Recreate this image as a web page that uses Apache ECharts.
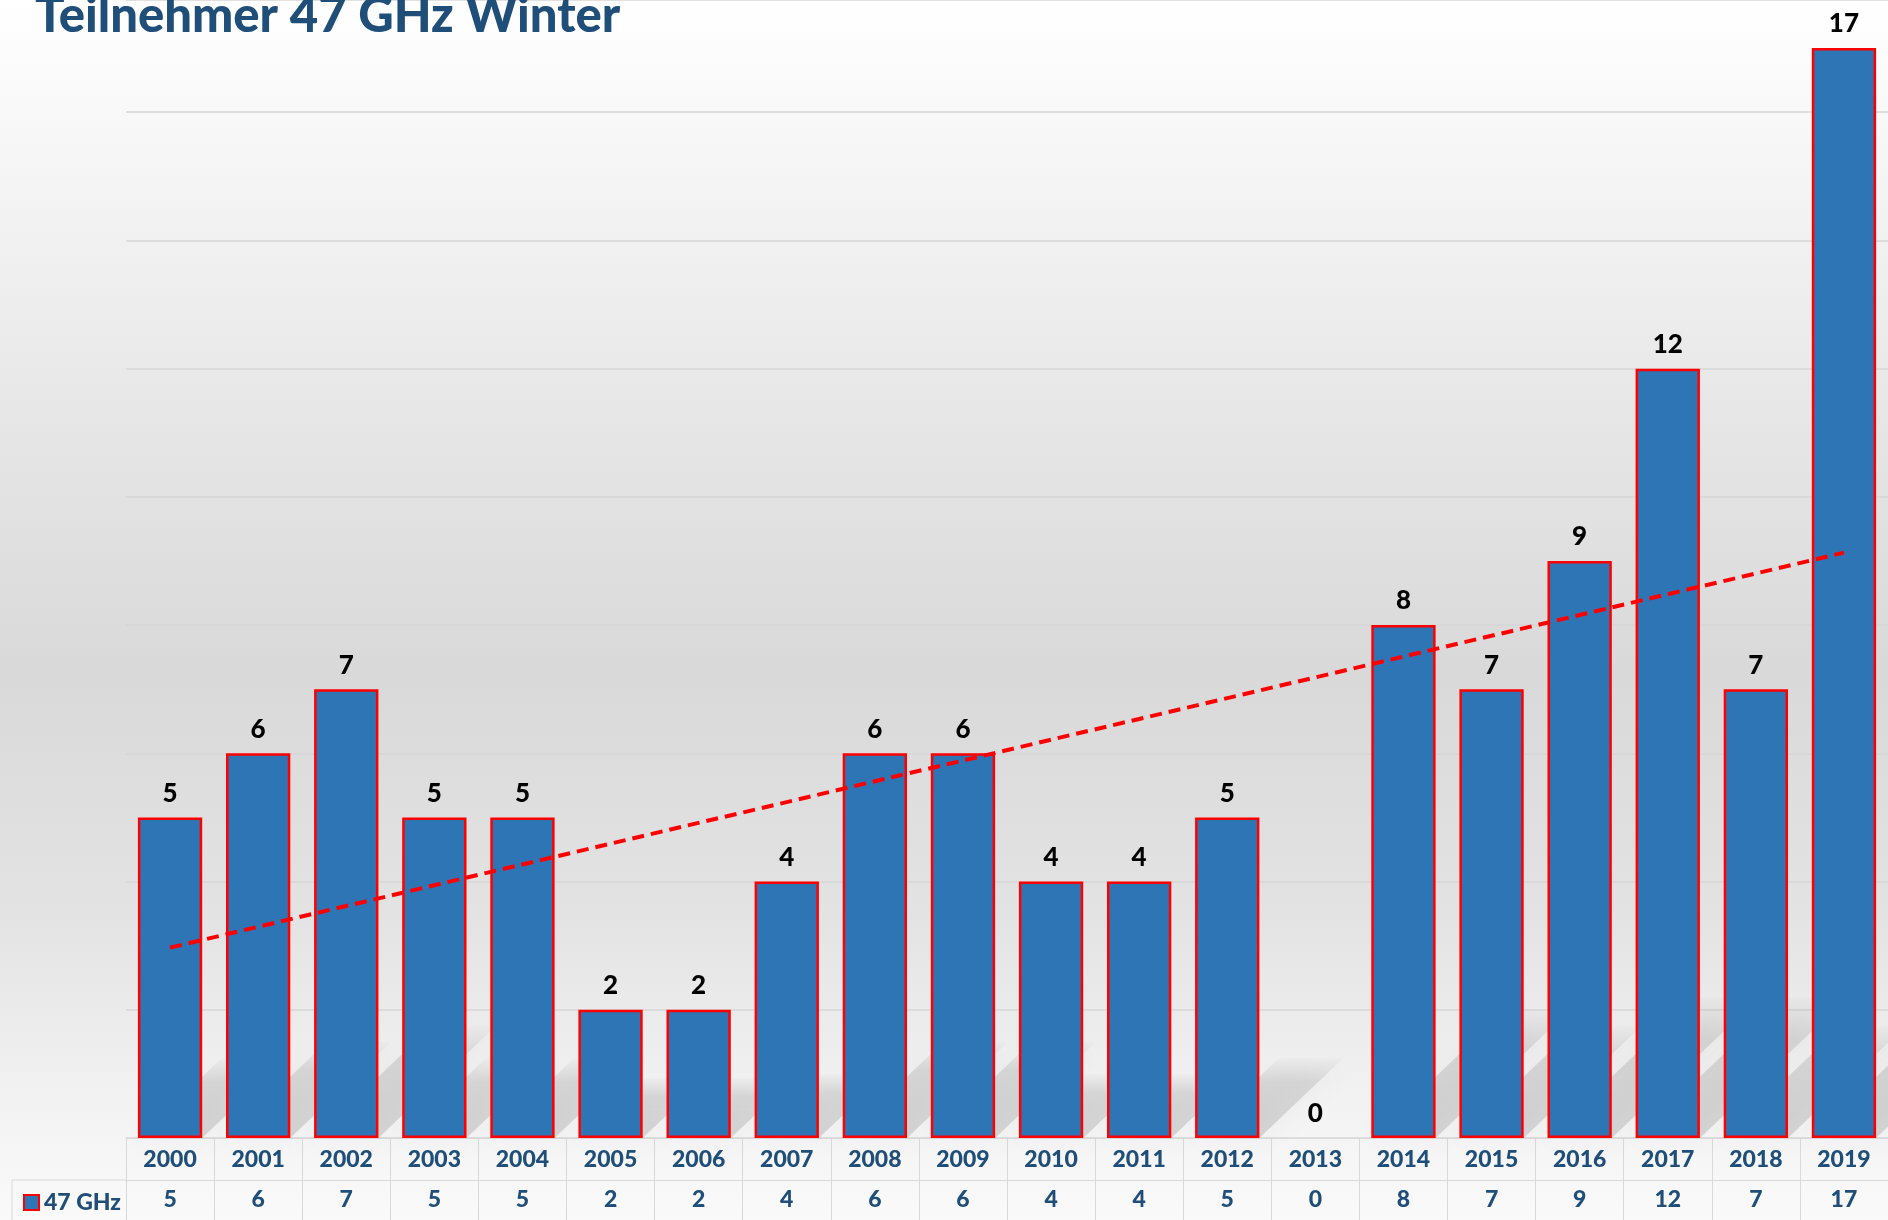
<!DOCTYPE html>
<html>
<head>
<meta charset="utf-8">
<title>Teilnehmer 47 GHz Winter</title>
<script src="https://cdn.jsdelivr.net/npm/echarts@6/dist/echarts.min.js"></script>
<style>
  html, body { margin: 0; padding: 0; }
  #chart { width: 1888px; height: 1220px; }
</style>
</head>
<body>
<div id="chart"></div>
<script>
// Jahre und Teilnehmerzahlen
var years = ["2000", "2001", "2002", "2003", "2004", "2005", "2006", "2007", "2008", "2009",
             "2010", "2011", "2012", "2013", "2014", "2015", "2016", "2017", "2018", "2019"];
var teilnehmer = [5, 6, 7, 5, 5, 2, 2, 4, 6, 6, 4, 4, 5, 0, 8, 7, 9, 12, 7, 17];
// Trendlinie (Start- und Endwert)
var trendIdx = [0, 19];
var trendVal = [2.97, 9.13];

var navy = "#1F4E79";
var font = "Lato, 'Open Sans', sans-serif";

var chart = echarts.init(document.getElementById("chart"));

var option = {
  backgroundColor: {
    type: "linear", x: 0, y: 0, x2: 0, y2: 1,
    colorStops: [
      { offset: 0, color: "#ffffff" },
      { offset: 0.1, color: "#f8f8f8" },
      { offset: 0.35, color: "#e6e6e6" },
      { offset: 0.55, color: "#d9d9d9" },
      { offset: 0.75, color: "#e3e3e3" },
      { offset: 0.9, color: "#f2f2f2" },
      { offset: 1, color: "#fafafa" }
    ]
  },
  title: {
    text: "Teilnehmer 47 GHz Winter",
    left: 30,
    top: -13,
    textStyle: { fontFamily: font, fontWeight: 900, fontSize: 49, color: navy }
  },
  legend: {
    data: ["47 GHz"],
    left: 18,
    top: 1186,
    icon: "rect",
    itemWidth: 15,
    itemHeight: 15,
    itemGap: 4,
    textStyle: { fontFamily: font, fontWeight: 900, fontSize: 23, color: navy }
  },
  grid: { left: 126, right: 0, top: 0, bottom: 82 },
  xAxis: [
    {
      type: "category",
      data: years,
      axisLine: { lineStyle: { color: "#d9d9d9", width: 1 } },
      axisTick: { show: true, length: 42, lineStyle: { color: "#d9d9d9" } },
      axisLabel: { margin: 10, fontFamily: font, fontWeight: 900, fontSize: 23, color: navy }
    },
    {
      // Datentabelle: zweite Zeile mit den Werten
      type: "category",
      position: "bottom",
      offset: 42,
      data: teilnehmer.map(String),
      axisLine: { lineStyle: { color: "#d9d9d9", width: 1 } },
      axisTick: { show: true, length: 42, lineStyle: { color: "#d9d9d9" } },
      axisLabel: { margin: 8, fontFamily: font, fontWeight: 900, fontSize: 23, color: navy }
    }
  ],
  yAxis: {
    type: "value",
    min: 0,
    max: 17.75,
    interval: 2,
    axisLabel: { show: false },
    axisLine: { show: false },
    axisTick: { show: false },
    splitLine: { lineStyle: { color: "#d6d6d6", width: 1.5 } }
  },
  graphic: [
    { type: "line", shape: { x1: 12, y1: 1180, x2: 126, y2: 1180 }, style: { stroke: "#d9d9d9", lineWidth: 1 } },
    { type: "line", shape: { x1: 12, y1: 1180, x2: 12, y2: 1220 }, style: { stroke: "#d9d9d9", lineWidth: 1 } }
  ],
  series: [
    {
      // Schatten hinter den Balken
      type: "custom",
      xAxisIndex: 0,
      silent: true,
      z: 1,
      data: teilnehmer.map(function (v, i) { return [i, v]; }),
      renderItem: function (params, api) {
        var v = api.value(1);
        if (!v) return;
        var base = api.coord([api.value(0), 0]);
        var top = api.coord([api.value(0), v]);
        var w = api.size([1, 0])[0] * 0.73;
        var h = Math.max(60, Math.min((base[1] - top[1]) * 0.25, 140));
        var dx = h * 1.05;
        var x0 = base[0] - w / 2, x1 = base[0] + w / 2, y = base[1];
        return {
          type: "polygon",
          shape: { points: [[x0, y], [x1, y], [x1 + dx, y - h], [x0 + dx, y - h]] },
          style: {
            fill: {
              type: "linear", x: 0, y: 1, x2: 0, y2: 0,
              colorStops: [
                { offset: 0, color: "rgba(0,0,0,0.13)" },
                { offset: 0.7, color: "rgba(0,0,0,0.1)" },
                { offset: 1, color: "rgba(0,0,0,0.01)" }
              ]
            },
            shadowBlur: 30,
            shadowColor: "rgba(0,0,0,0.25)"
          }
        };
      }
    },
    {
      name: "47 GHz",
      type: "bar",
      xAxisIndex: 0,
      z: 2,
      data: teilnehmer.map(function (v) {
        return v === 0 ? { value: v, itemStyle: { borderWidth: 0 } } : v;
      }),
      barWidth: "73%",
      itemStyle: { color: "#2E75B6", borderColor: "#FF0000", borderWidth: 2.5 },
      label: {
        show: true,
        position: "top",
        distance: 11,
        fontFamily: font,
        fontWeight: 900,
        fontSize: 26,
        color: "#000000"
      }
    },
    {
      // lineare Trendlinie
      type: "line",
      xAxisIndex: 0,
      z: 3,
      data: trendIdx.map(function (x, i) { return [x, trendVal[i]]; }),
      symbol: "none",
      silent: true,
      lineStyle: { color: "#FF0000", width: 4, type: [12, 7] }
    }
  ]
};

chart.setOption(option);
</script>
</body>
</html>
